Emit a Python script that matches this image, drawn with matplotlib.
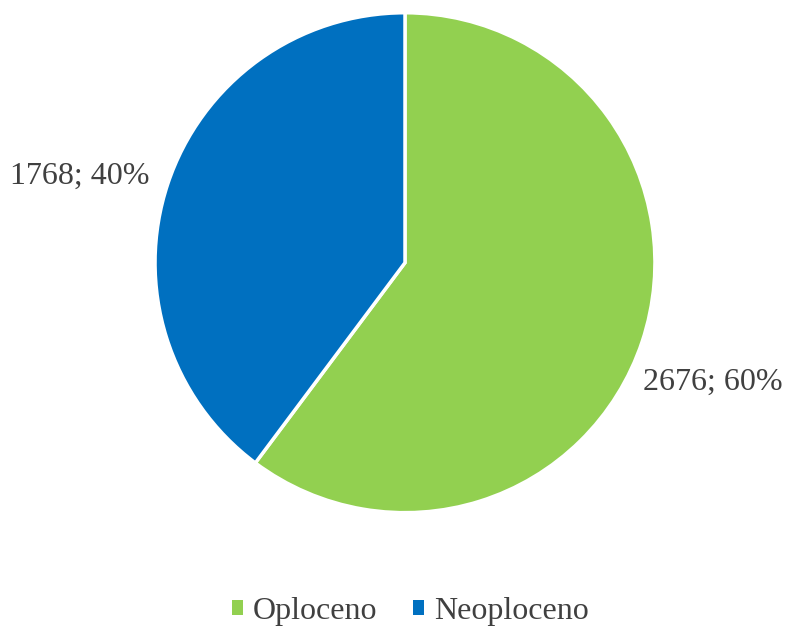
import matplotlib.pyplot as plt
from matplotlib.patches import Patch

labels = ['Oploceno', 'Neoploceno']
values = [2676, 1768]
colors = ['#92D050', '#0070C0']
label_pos = [(1.23, -0.48), (-1.30, 0.345)]

plt.rcParams['font.family'] = ['Liberation Serif', 'DejaVu Serif']
text_color = '#404040'

fig = plt.figure(figsize=(7.91, 6.30), dpi=100)
ax = fig.add_axes([0.196, 0.186, 0.632, 0.794])

wedges, _ = ax.pie(values, colors=colors, startangle=90, counterclock=False,
                   radius=1, wedgeprops=dict(edgecolor='white', linewidth=2.5))
ax.set_xlim(-1, 1)
ax.set_ylim(-1, 1)
ax.set_aspect('equal')

total = sum(values)
for v, (x, y) in zip(values, label_pos):
    ax.text(x, y, f"{v}; {round(100 * v / total)}%", ha='center', va='center',
            fontsize=23, color=text_color, clip_on=False)

handles = [Patch(facecolor=c, edgecolor='none') for c in colors]
fig.legend(handles, labels, loc='center', bbox_to_anchor=(0.519, 0.030),
           ncol=2, frameon=False, fontsize=23, labelcolor=text_color,
           handlelength=0.34, handleheight=0.34, handletextpad=0.31,
           columnspacing=1.13)

fig.savefig('out.png', dpi=100)
